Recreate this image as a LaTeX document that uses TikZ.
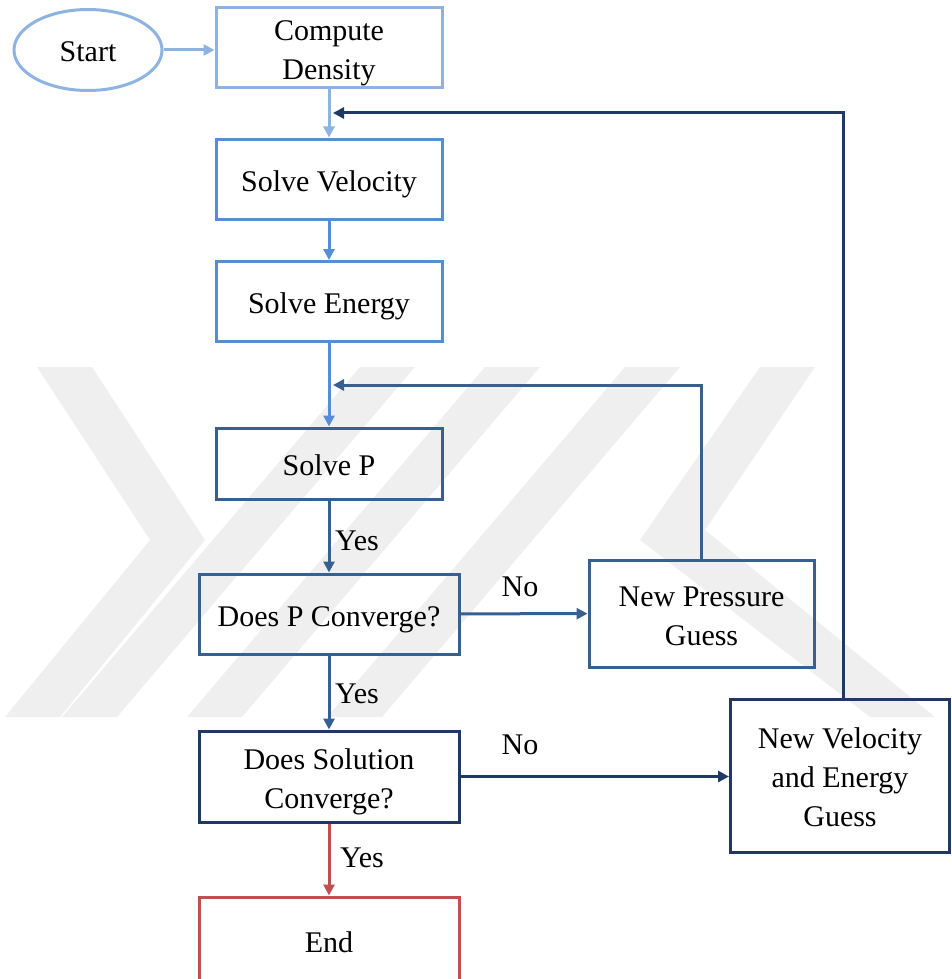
\documentclass[tikz,border=0pt]{standalone}
\usepackage{fontspec}
\setmainfont{Liberation Serif}
\usetikzlibrary{arrows.meta,shapes.geometric}
\definecolor{cLight}{HTML}{8DB3E2}
\definecolor{cMed}{HTML}{558ED5}
\definecolor{cSteel}{HTML}{376092}
\definecolor{cNavy}{HTML}{1F3864}
\definecolor{cRed}{HTML}{C0504D}
\definecolor{cWm}{HTML}{EFEFEF}
\begin{document}
\begin{tikzpicture}[x=1pt,y=-1pt,
  box/.style={draw, rectangle, line width=3pt, align=center, inner sep=0pt,
    font=\fontsize{30}{39}\selectfont, text height=31pt, text depth=7pt},
  two/.style={text height=70pt},
  three/.style={text height=109pt},
  lbl/.style={font=\fontsize{30}{36}\selectfont, inner sep=0pt},
  arr/.style={line width=3pt, -{Triangle[length=11pt,width=11pt]}},
  wm/.style={fill=cWm, draw=none}]
\useasboundingbox (0,0) rectangle (951,979);
\clip (0,0) rectangle (951,979);
% watermark
\fill[wm] (37,367) -- (92,367) -- (205,540) -- (60,717) -- (5,717) -- (150,540) -- cycle;
\fill[wm] (360,367) -- (415,367) -- (117,717) -- (62,717) -- cycle;
\fill[wm] (485,367) -- (540,367) -- (242,717) -- (187,717) -- cycle;
\fill[wm] (625,367) -- (680,367) -- (382,717) -- (327,717) -- cycle;
\fill[wm] (760,367) -- (815,367) -- (705,530) -- (935,717) -- (870,717) -- (640,540) -- cycle;
% nodes
\node[box, ellipse, draw=cLight, minimum width=148pt, minimum height=81pt] (start) at (88,50) {Start};
\node[box, two, draw=cLight, minimum width=226pt, minimum height=80pt] (compute) at (329,48) {Compute\\Density};
\node[box, draw=cMed, minimum width=226pt, minimum height=80pt] (vel) at (329,179) {Solve Velocity};
\node[box, draw=cMed, minimum width=226pt, minimum height=80pt] (energy) at (329,301.5) {Solve Energy};
\node[box, draw=cSteel, minimum width=226pt, minimum height=71pt] (solvep) at (329,463.5) {Solve P};
\node[box, draw=cSteel, minimum width=260pt, minimum height=80pt] (doesp) at (329,614) {Does P Converge?};
\node[box, two, draw=cSteel, minimum width=225pt, minimum height=107pt] (press) at (701.5,613.5) {New Pressure\\Guess};
\node[box, two, draw=cNavy, minimum width=260pt, minimum height=91pt] (doessol) at (329,776.5) {Does Solution\\Converge?};
\node[box, three, draw=cNavy, minimum width=219pt, minimum height=153pt] (newvel) at (840,775.5) {New Velocity\\and Energy\\Guess};
\node[box, draw=cRed, minimum width=260pt, minimum height=86pt] (end) at (329,940) {End};
% connectors
\coordinate (fbA) at (333,113);
\coordinate (fbB) at (333,385);
\draw[arr, cLight] (start.east) -- (start.east -| compute.west);
\draw[arr, cLight] (compute) -- (vel);
\draw[arr, cMed] (vel) -- (energy);
\draw[arr, cMed] (energy) -- (solvep);
\draw[arr, cSteel] (solvep) -- (doesp);
\draw[arr, cSteel] (doesp) -- (doessol);
\draw[arr, cSteel] (doesp) -- (press);
\draw[arr, cNavy] (doessol.east) -- (doessol.east -| newvel.west);
\draw[arr, cRed] (doessol) -- (end);
\draw[arr, cSteel] (press.north) |- (fbB);
\draw[arr, cNavy] ([xshift=3pt]newvel.north) |- (fbA);
% labels
\node[lbl] (y1) at (357,541) {Yes};
\node[lbl] (y2) at (357,694) {Yes};
\node[lbl] (y3) at (362,858) {Yes};
\node[lbl] (n1) at (520,587) {No};
\node[lbl] (n2) at (520,745) {No};
\end{tikzpicture}
\end{document}
